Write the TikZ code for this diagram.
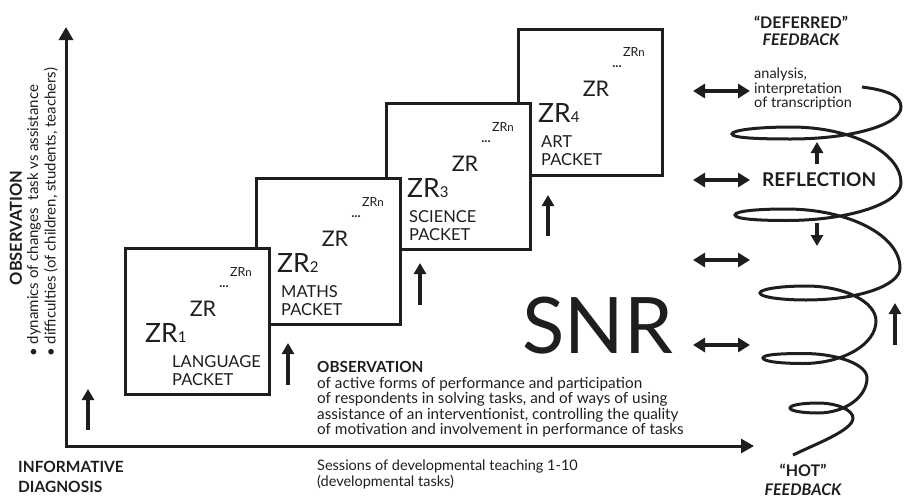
\documentclass[tikz,border=0pt]{standalone}
\usepackage{fontspec}
\setmainfont{Lato}
\usetikzlibrary{arrows.meta}
\definecolor{ink}{HTML}{1E1E1E}
\newcommand\fsz[2]{\fontsize{#1}{#2}\selectfont}
\begin{document}
\begin{tikzpicture}[x=1pt,y=-1pt,
  box/.style={draw=ink, line width=3pt, fill=white, minimum width=144pt, minimum height=146pt, inner sep=0pt},
  uparrow/.style={draw=ink, line width=3.6pt, -{Triangle[width=12pt,length=11pt]}},
  dblarrow/.style={draw=ink, line width=3.6pt, {Triangle[width=14pt,length=12pt]}-{Triangle[width=14pt,length=12pt]}},
  axis/.style={draw=ink, line width=3pt, {Triangle[width=14pt,length=13pt]}-{Triangle[width=14pt,length=13pt]}},
  spiral/.style={draw=ink, line width=3pt},
  txt/.style={text=ink, inner sep=0pt},
  zrn/.style={txt, font=\fsz{12.5}{14}},
  zdots/.style={txt, font=\bfseries\fsz{13}{14}},
  zrm/.style={txt, font=\fsz{21.5}{24}},
  zrk/.style={txt, anchor=base west, font=\fsz{26.5}{30}},
  pk/.style={txt, anchor=base west, font=\fsz{16.5}{18}},
]
\useasboundingbox (0,0) rectangle (905,498);

% axes
\coordinate (ytop) at (66,27);
\coordinate (orig) at (66,446);
\coordinate (xend) at (754,446);
\draw[axis] (ytop) -- (orig) -- (xend);

% boxes (back to front)
\node[box] (b4) at (590.5,102.5) {};
\node[box] (b3) at (458.5,176.5) {};
\node[box] (b2) at (328,251.5) {};
\node[box] (b1) at (197,321.5) {};

% box texts
\foreach \bx/\by/\k/\la/\lb/\ix in {125/249/1/LANGUAGE/PACKET/47, 257/179/2/MATHS/PACKET/24, 387/104/3/SCIENCE/PACKET/22, 518/29/4/ART/PACKET/23}{
  \node[zrn] (zrn\k) at (\bx+116,\by+23) {ZR\fsz{11.5}{12}n};
  \node[zdots] (zd\k) at (\bx+99,\by+38) {...};
  \node[zrm] (zr\k) at (\bx+78,\by+60) {ZR};
  \node[zrk] (zrk\k) at (\bx+20,\by+93) {ZR{\fsz{15}{18}\k}};
  \node[pk] (pa\k) at (\bx+\ix,\by+118) {\la};
  \node[pk] (pb\k) at (\bx+\ix,\by+136) {\lb};
}

% up arrows
\coordinate (a0s) at (88,430); \coordinate (a0e) at (88,389);
\coordinate (a1s) at (288,385); \coordinate (a1e) at (288,343);
\coordinate (a2s) at (420,305); \coordinate (a2e) at (420,263);
\coordinate (a3s) at (548,236); \coordinate (a3e) at (548,195);
\draw[uparrow] (a0s) -- (a0e);
\draw[uparrow] (a1s) -- (a1e);
\draw[uparrow] (a2s) -- (a2e);
\draw[uparrow] (a3s) -- (a3e);

% left rotated text
\node[txt, rotate=90, font=\bfseries\fsz{16.5}{18}] (obsv) at (16,228) {OBSERVATION};
\node[txt, rotate=90, anchor=west, font=\fsz{15}{17}] (dyn) at (34,357) {\textbullet\ dynamics of changes\ \ task vs assistance};
\node[txt, rotate=90, anchor=west, font=\fsz{15}{17}] (dif) at (51,357) {\textbullet\ difficulties (of children, students, teachers)};

% bottom left
\node[txt, anchor=base west, font=\bfseries\fsz{15.5}{18}] (inf) at (18,472) {INFORMATIVE};
\node[txt, anchor=base west, font=\bfseries\fsz{15.5}{18}] (dia) at (18,492) {DIAGNOSIS};

% sessions
\node[txt, anchor=base west, font=\fsz{14.5}{16}] (ses1) at (317,470) {Sessions of developmental teaching 1-10};
\node[txt, anchor=base west, font=\fsz{14.5}{16}] (ses2) at (317,486) {(developmental tasks)};

% observation block
\node[txt, anchor=base west, font=\bfseries\fsz{15.3}{16}] (ob0) at (317,372) {OBSERVATION};
\node[txt, anchor=base west, font=\fsz{15.3}{16}] (ob1) at (317,388) {of active forms of performance and participation};
\node[txt, anchor=base west, font=\fsz{15.3}{16}] (ob2) at (317,403.5) {of respondents in solving tasks, and of ways of using};
\node[txt, anchor=base west, font=\fsz{15.3}{16}] (ob3) at (317,419) {assistance of an interventionist, controlling the quality};
\node[txt, anchor=base west, font=\fsz{15.3}{16}] (ob4) at (317,434.5) {of motivation and involvement in performance of tasks};

% SNR
\node[txt, font=\fsz{78}{80}] (snr) at (598,326) {SNR};

% right side texts
\node[txt, font=\bfseries\fsz{16}{17}] (def1) at (801,22) {“DEFERRED”};
\node[txt, font=\bfseries\itshape\fsz{16}{17}] (def2) at (801,40) {FEEDBACK};
\node[txt, anchor=base west, font=\fsz{14.5}{15}] (an1) at (754,78) {analysis,};
\node[txt, anchor=base west, font=\fsz{14.5}{15}] (an2) at (754,93) {interpretation};
\node[txt, anchor=base west, font=\fsz{14.5}{15}] (an3) at (754,107.5) {of transcription};
\node[txt, anchor=west, font=\bfseries\fsz{19}{22}] (refl) at (762,180) {REFLECTION};
\node[txt, font=\bfseries\fsz{16}{17}] (hot1) at (803,470) {“HOT”};
\node[txt, font=\bfseries\itshape\fsz{16}{17}] (hot2) at (803,490) {FEEDBACK};

% double arrows
\foreach \yy [count=\i] in {91,180,260,345}{
  \coordinate (dl\i) at (693,\yy); \coordinate (dr\i) at (750,\yy);
  \draw[dblarrow] (dl\i) -- (dr\i);
}

% small arrows near spiral
\coordinate (su1) at (817,164); \coordinate (su2) at (817,142);
\coordinate (sd1) at (817,223); \coordinate (sd2) at (817,246);
\coordinate (ru1) at (895,345); \coordinate (ru2) at (895,303);
\draw[uparrow] (su1) -- (su2);
\draw[uparrow] (sd1) -- (sd2);
\draw[uparrow] (ru1) -- (ru2);

% spiral
\draw[spiral] (862,87) .. controls (885,90) and (901,95) .. (901,107)
 .. controls (901,125) and (851,139) .. (791,139)
 .. controls (759,139) and (732,138) .. (732,134)
 .. controls (732,130) and (759,127) .. (791,127)
 .. controls (851,127) and (901,152) .. (901,183)
 .. controls (901,203.6) and (849,220.5) .. (786,220.5)
 .. controls (758,220.5) and (735,219) .. (735,215)
 .. controls (735,211) and (758,209) .. (786,209)
 .. controls (849,209) and (900,235.5) .. (900,268)
 .. controls (900,285.6) and (858,300) .. (806,300)
 .. controls (781,300) and (760,297) .. (760,293)
 .. controls (760,289) and (781,286) .. (806,286)
 .. controls (844.5,286) and (876,301.75) .. (876,321)
 .. controls (876,344.4) and (843,363.5) .. (803,363.5)
 .. controls (781,363.5) and (763,361.5) .. (763,358)
 .. controls (763,354.5) and (781,353.5) .. (803,353.5)
 .. controls (838,353.5) and (867,364.5) .. (867,378)
 .. controls (867,397) and (845,413) .. (818,413)
 .. controls (803,413) and (790,411) .. (790,408)
 .. controls (790,405) and (803,403) .. (818,403)
 .. controls (837,403) and (853,410) .. (853,418)
 .. controls (853,430) and (818,443) .. (793,455);
\end{tikzpicture}
\end{document}
